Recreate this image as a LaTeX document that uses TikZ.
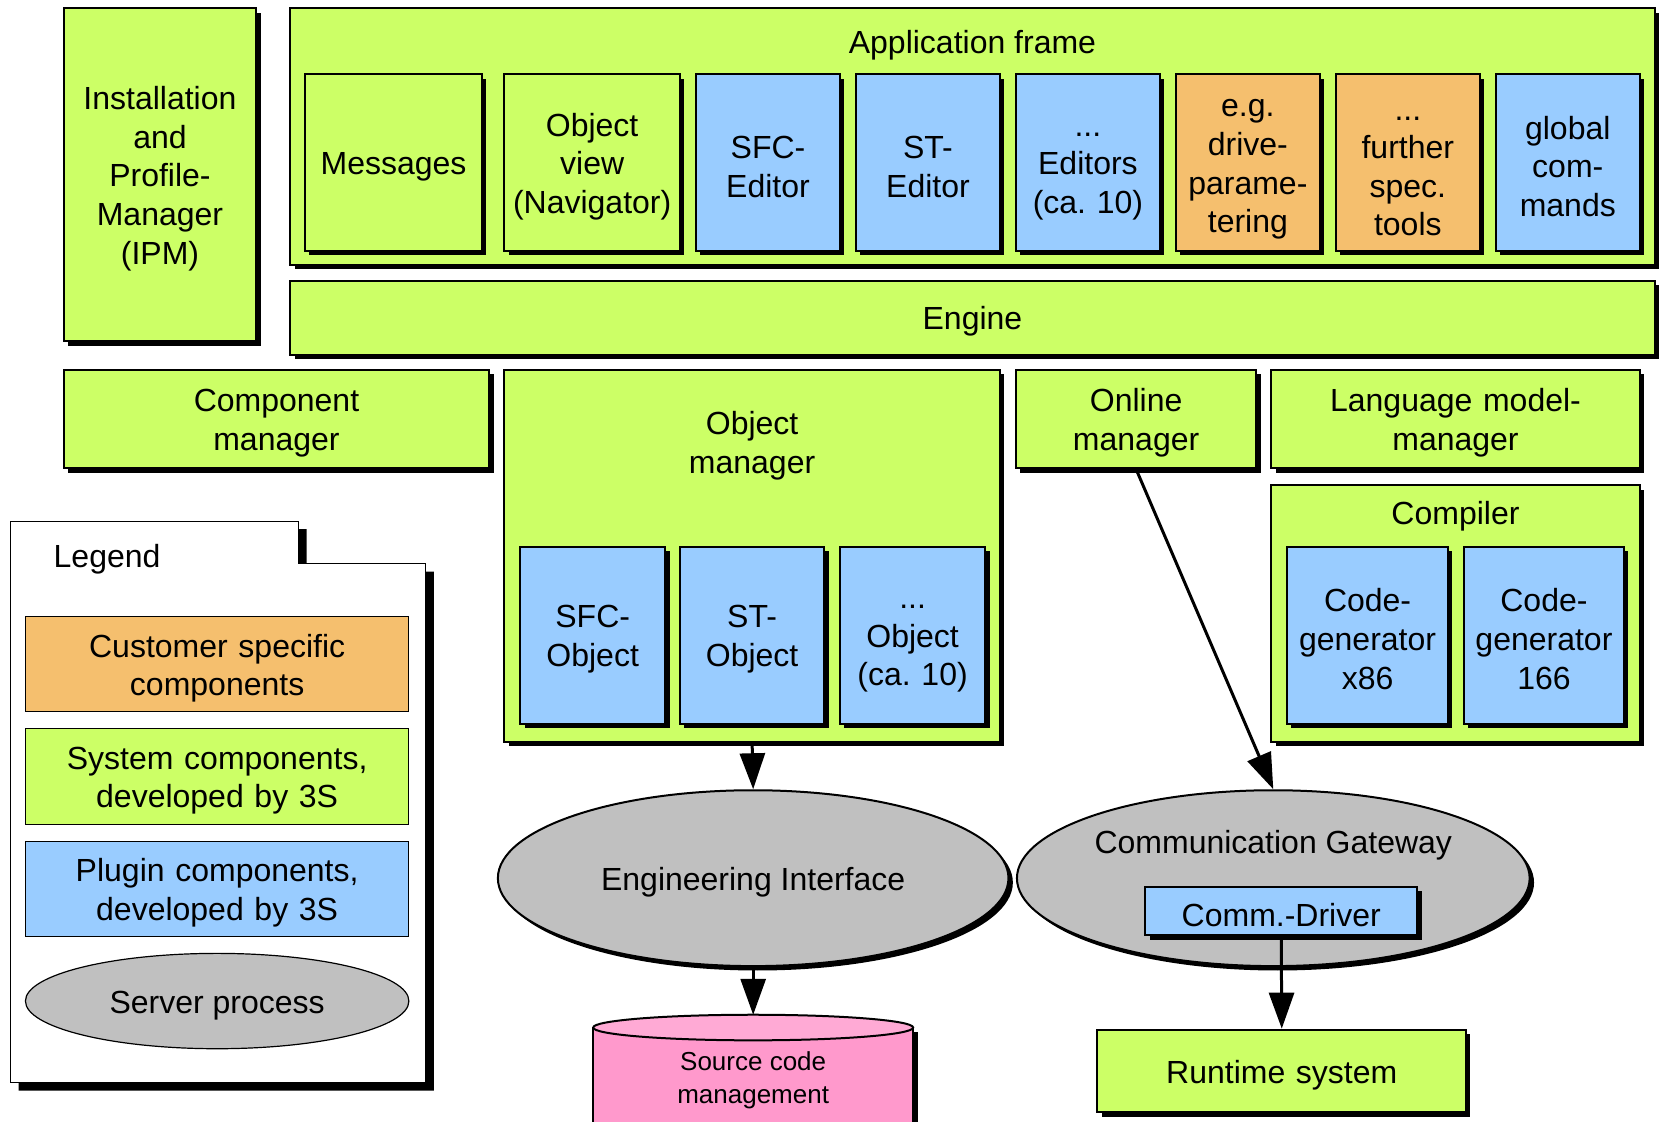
\documentclass[tikz,border=0pt]{standalone}
\usepackage{fontspec}
\setmainfont{Liberation Sans}
\usetikzlibrary{shapes.geometric,shadows,arrows.meta}

\definecolor{sysgreen}{HTML}{CCFF66}
\definecolor{plugblue}{HTML}{99CCFF}
\definecolor{custorange}{HTML}{F5BF6E}
\definecolor{srvgray}{HTML}{C0C0C0}
\definecolor{scmpink}{HTML}{FF99CC}
\definecolor{scmlight}{HTML}{FFAAD5}

\tikzset{
  ellsize/.style 2 args={minimum width=#1*0.5297pt, minimum height=#2*0.5297pt},
  boxsize/.style 2 args={ellsize={#1}{#2}, text width=#1*0.5297pt-6pt},
  comp/.style={draw, line width=1pt, inner sep=0pt, align=center,
    execute at begin node={\rule{0pt}{15.5pt}},
    drop shadow={shadow xshift=2.2pt, shadow yshift=-2.2pt, fill=black, opacity=1}},
  sysbox/.style={comp, fill=sysgreen},
  plugbox/.style={comp, fill=plugblue},
  custbox/.style={comp, fill=custorange},
  server/.style={comp, ellipse, fill=srvgray},
  legitem/.style={draw, line width=0.6pt, inner sep=0pt, align=center,
    execute at begin node={\rule{0pt}{15.5pt}}},
  flow/.style={line width=1.5pt, -{Triangle[length=18pt, width=12.5pt]}}
}

\begin{document}
\frenchspacing
\begin{tikzpicture}[x=0.5297pt, y=-0.5297pt, font=\fontsize{16}{19.3}\selectfont]
  \useasboundingbox (0,0) rectangle (1568,1059);
  \clip (0,0) rectangle (1568,1059);
  \fill[white] (0,0) rectangle (1568,1059);

  % installation manager
  \node[sysbox, boxsize={182}{314}] (ipm) at (151,165) {Installation\\and\\Profile-\\Manager\\(IPM)};

  % application frame
  \node[sysbox, boxsize={1288}{242}] (app) at (918,129) {};
  \node (apptitle) at (918,43) {Application frame};
  \node[sysbox, boxsize={167}{167}] (msg) at (371.5,153.5) {Messages};
  \node[sysbox, boxsize={166}{167}] (objview) at (559,153.5) {Object\\view\\(Navigator)};
  \node[plugbox, boxsize={136}{167}] (sfced) at (725,153.5) {SFC-\\Editor};
  \node[plugbox, boxsize={136}{167}] (sted) at (876,153.5) {ST-\\Editor};
  \node[plugbox, boxsize={136}{167}] (moreed) at (1027,153.5) {...\\Editors\\(ca. 10)};
  \node[custbox, boxsize={136}{167}] (drive) at (1178,153.5) {e.g.\\drive-\\parame-\\tering};
  \node[custbox, boxsize={136}{167}] (further) at (1329,153.5) {...\\further\\spec.\\tools};
  \node[plugbox, boxsize={136}{167}] (globcmd) at (1480,153.5) {global\\com-\\mands};

  \node[sysbox, boxsize={1288}{70}] (engine) at (918,300) {Engine};

  % managers
  \node[sysbox, boxsize={402}{93}] (cm) at (261,395.5) {Component\\manager};
  \node[sysbox, boxsize={468}{351}] (om) at (710,524.5) {};
  \node[align=center] (omtitle) at (710,421) {Object\\manager};
  \node[plugbox, boxsize={137}{167}] (sfcobj) at (559.5,599.5) {SFC-\\Object};
  \node[plugbox, boxsize={136}{167}] (stobj) at (710,599.5) {ST-\\Object};
  \node[plugbox, boxsize={137}{167}] (moreobj) at (861.5,599.5) {...\\Object\\(ca. 10)};
  \node[sysbox, boxsize={227}{93}] (onl) at (1072.5,395.5) {Online\\manager};
  \node[sysbox, boxsize={348}{93}] (lmm) at (1374,395.5) {Language model-\\manager};
  \node[sysbox, boxsize={348}{242}] (comp) at (1374,579) {};
  \node (comptitle) at (1374,487) {Compiler};
  \node[plugbox, boxsize={152}{167}] (cgx) at (1291,599.5) {Code-\\generator\\x86};
  \node[plugbox, boxsize={151}{167}] (cgc) at (1457.5,599.5) {Code-\\generator\\166};

  % legend
  \draw[fill=white, line width=0.6pt,
    drop shadow={shadow xshift=4pt, shadow yshift=-4pt, fill=black, opacity=1}]
    (10,492) -- (282,492) -- (282,532) -- (402,532) -- (402,1022) -- (10,1022) -- cycle;
  \node[anchor=west] (legtitle) at (44,528) {Legend};
  \node[legitem, fill=custorange, boxsize={362}{90}] (legcust) at (205,627) {Customer specific\\components};
  \node[legitem, fill=sysgreen, boxsize={362}{90}] (legsys) at (205,733) {System components,\\developed by 3S};
  \node[legitem, fill=plugblue, boxsize={362}{90}] (legplug) at (205,839) {Plugin components,\\developed by 3S};
  \node[legitem, ellipse, fill=srvgray, ellsize={362}{90}] (legsrv) at (205,945) {Server process};

  % server processes
  \node[server, ellsize={482}{166}] (ei) at (711,829) {Engineering Interface};
  \node[server, ellsize={484}{166}] (cg) at (1202,829) {};
  \node (cgtitle) at (1202,798) {Communication Gateway};
  \node[plugbox, boxsize={257}{46}] (drv) at (1209.5,860) {Comm.-Driver};

  \node[sysbox, boxsize={348}{78}] (rts) at (1210,1011) {Runtime system};

  % source code management
  \fill[scmpink, drop shadow={shadow xshift=2.2pt, shadow yshift=-2.2pt, fill=black, opacity=1}]
    (560,970) rectangle (862,1075);
  \draw[line width=1pt] (560,970) -- (560,1075) (862,970) -- (862,1075);
  \draw[fill=scmlight, line width=1pt] (711,970) ellipse [x radius=80pt, y radius=6.4pt];
  \coordinate (scmtop) at (711,958);
  \node[align=center, font=\fontsize{13}{16.4}\selectfont] (scm) at (711,1020) {Source code\\management};

  % connectors
  \draw[flow] (om.south) -- (ei.north);
  \draw[flow] (ei.south) -- (scmtop);
  \draw[flow] (onl.south) -- (cg.north);
  \draw[flow] (drv.south) -- (rts.north);
\end{tikzpicture}
\end{document}
